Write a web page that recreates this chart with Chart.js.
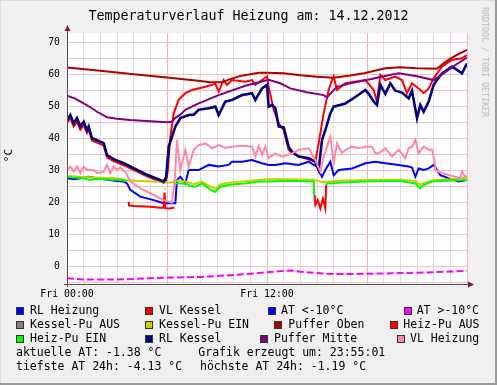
<!DOCTYPE html>
<html>
<head>
<meta charset="utf-8">
<script src="https://cdn.jsdelivr.net/npm/chart.js@4/dist/chart.umd.min.js"></script>
<style>
  html, body { margin:0; padding:0; background:#f0f0f0; }
  #wrap { position:relative; width:497px; height:385px; background:#f0f0f0; overflow:hidden; }
  canvas { position:absolute; left:0; top:0; }
  .t { position:absolute; font-family:"DejaVu Sans Mono", monospace; color:#000; white-space:pre; line-height:1; }
  .sq { position:absolute; width:8px; height:8px; box-sizing:border-box; border:1px solid #333; }
  .bd { position:absolute; }
</style>
</head>
<body>
<div id="wrap">
  <canvas id="c" width="497" height="385"></canvas>
  <div class="bd" style="left:0;top:0;width:497px;height:1px;background:#dcdcdc"></div>
  <div class="bd" style="left:0;top:0;width:1px;height:385px;background:#dcdcdc"></div>
  <div class="bd" style="left:495px;top:0;width:2px;height:385px;background:#9a9a9a"></div>
  <div class="bd" style="left:0;top:383px;width:497px;height:2px;background:#9a9a9a"></div>
</div>
<script>
// ---------- DATA (hours since Fri 00:00, °C) ----------
const titleText = "Temperaturverlauf Heizung am: 14.12.2012";
const yAxisTitle = "°C";
const xTickHours = [0,1,2,3,4,5,6,7,8,9,10,11,12,13,14,15,16,17,18,19,20,21,22,23,24];
const xTickLabels = { 0: "Fri 00:00", 12: "Fri 12:00" };
const yTickValues = [-5,0,5,10,15,20,25,30,35,40,45,50,55,60,65,70];

const legendNames = ["RL Heizung","VL Kessel","AT <-10°C","AT >-10°C","Kessel-Pu AUS","Kessel-Pu EIN",
                     "Puffer Oben","Heiz-Pu AUS","Heiz-Pu EIN","RL Kessel","Puffer Mitte","VL Heizung"];
const legendColors = ["#0000ff","#ff0000","#0000ff","#ff00ff","#808080","#cccc00",
                      "#aa0000","#ff0000","#00ff00","#000080","#800080","#ff88aa"];

const rlHeizung = [[0,27.6],[0.4,27.3],[0.8,27.6],[1.3,28.1],[1.8,27.6],[2.5,27.1],[3,26.8],[3.4,26.6],[3.6,26],[3.8,24],[4.4,21.9],[5.2,20.8],[5.8,19.8],[6.5,19.8],[6.6,27.1],[6.8,28.1],[7.1,26],[7.3,30.2],[7.9,30.2],[8.5,31.8],[9.1,31.3],[9.7,31.8],[9.9,32.8],[10.5,32.8],[11.1,33.3],[11.7,32.3],[12.1,31.8],[12.5,31.8],[13.1,32.3],[13.9,31.8],[14.5,32.8],[14.8,31.8],[15,31.3],[15.3,28.1],[15.5,30.2],[15.8,32.8],[16,28.6],[16.3,30.2],[17.1,30.7],[17.9,32.3],[18.5,32.8],[19.1,32.3],[19.9,31.8],[20.5,31.3],[20.7,31],[20.9,28.1],[21.1,30.7],[21.4,30.2],[21.7,30.7],[22,31.8],[22.4,28.6],[22.9,27.6],[23.5,26.6],[24,27.1]];

const vlKessel = [[0,45],[0.2,46.4],[0.4,43.8],[0.6,45.2],[0.8,42.8],[1,44.2],[1.2,41.8],[1.3,42.8],[1.5,39.4],[1.8,38.8],[2.2,37.8],[2.4,34.2],[2.8,33],[3.4,31.7],[3.8,30.7],[4.8,28.2],[5.8,26.2],[5.95,27],[6.05,30],[6.2,40.6],[6.4,47.9],[6.7,52.1],[7.1,54.2],[7.5,55.2],[8.3,56.2],[8.9,57.1],[9.1,54.7],[9.4,58.3],[9.6,56.8],[9.9,58.3],[10.7,57.8],[11.1,58.3],[11.3,56.8],[11.7,58.3],[12,59.4],[12.1,56.2],[12.4,49],[12.7,44.8],[13,42.7],[13.3,36.5],[13.7,34.9],[14.9,32.8],[15.1,38.6],[15.4,47.9],[15.7,55.2],[15.9,58.3],[16,59.4],[16.2,55.2],[16.7,57.3],[17.9,58.3],[18.4,55.2],[18.6,51.6],[18.8,59.9],[19.1,58.3],[19.7,59.4],[20.1,58.3],[20.4,54.2],[20.7,57.3],[21.1,55.7],[21.4,54.2],[21.7,55.7],[22,58.9],[22.5,62.5],[23.1,64.6],[23.7,65.1],[24,66.1]];

const atBelow10 = [];

const atAbove10 = [[0,-3.6],[1,-4.0],[2,-4.0],[3,-4.0],[4,-3.8],[5,-3.6],[6,-3.4],[7,-3.3],[8,-3.2],[9,-2.9],[10,-2.6],[11,-2.2],[12,-1.7],[13,-1.3],[13.5,-1.2],[14,-1.6],[15,-2.0],[16,-2.3],[17,-2.3],[18,-2.2],[19,-2.1],[20,-2.0],[21,-1.9],[22,-1.7],[23,-1.5],[24,-1.3]];

const kesselPuAus = [];

const kesselPuEin = [[0,28.3],[1,28],[2,27.8],[3,27.6],[3.6,27],[4.5,26.8],[5.5,26.5],[5.9,26.3],[6.3,26.3],[6.6,26.9],[7.1,26.6],[7.6,25.8],[8.1,26.6],[8.5,25.3],[8.9,24.3],[9.2,25.7],[9.7,26.2],[10.7,26.7],[11.5,27.1],[12,27.3],[13,27.3],[14.8,27.2],[15.3,26.5],[15.7,26.6],[16.5,26.9],[18,27.1],[19,27.2],[20,27.2],[20.9,26.8],[21.2,25.6],[21.5,26.3],[22,27],[23,27.3],[24,27.8]];

const pufferOben = [[0,62.2],[2,61.2],[4,60.1],[6,59.1],[8,58],[8.6,57.6],[9.3,57.6],[9.8,58.6],[10.4,59.6],[11.5,60.6],[12,60.6],[13,60.4],[14,59.8],[15,59.3],[16,59],[17,59.7],[17.9,60.5],[18.7,61.5],[19.1,62],[20,62.3],[21,62],[22.2,61.8],[22.6,63.5],[23,65],[23.5,66.5],[24,67.7]];

const heizPuAus = [[3.7,20.3],[3.72,19.2],[4,19],[5,18.7],[5.6,18.4],[5.8,18.4],[5.85,23.2],[5.9,18.3],[6.2,18.2],[6.45,18.5],[6.5,null],[14.85,22.4],[14.9,19.3],[15.05,20.8],[15.2,18.2],[15.35,21.2],[15.5,18.2],[15.55,25.5],[15.6,null]];

const heizPuEin = [[0,28.1],[0.4,27.9],[0.8,27.8],[1.4,27.1],[1.8,27.5],[2.2,27.3],[2.6,27.2],[3,27.2],[3.3,27],[3.6,26.8],[3.65,null],[5.84,24.2],[5.9,24.2],[5.95,null],[6.45,25.5],[6.5,26],[7.1,26],[7.4,25.2],[7.7,25],[8.1,26],[8.5,24.5],[8.7,23.8],[8.9,23.4],[9.2,25],[9.7,25.5],[10.2,25.8],[10.7,26],[11.5,26.6],[12.1,26.6],[13,26.8],[14,26.8],[14.8,26.6],[14.83,22.4],[14.86,null],[15.55,25.5],[15.6,26],[16.5,26.3],[17.9,26.6],[19,26.8],[20,26.8],[20.9,26],[21.1,25],[21.2,24.5],[21.4,25.5],[21.9,26.6],[23,26.9],[24,27.1]];

const rlKessel = [[0,45.8],[0.2,47.4],[0.4,44.8],[0.6,46.4],[0.8,43.8],[1,45.3],[1.2,42.7],[1.3,43.8],[1.5,40.1],[1.8,39.5],[2.2,38.6],[2.4,34.9],[2.8,33.6],[3.4,32.3],[3.8,31.3],[4.8,28.7],[5.8,26.6],[5.95,28],[6.1,37.5],[6.3,40.6],[6.5,43.8],[6.8,46.4],[7.3,47.4],[7.6,47.5],[7.9,49],[8.5,49.5],[8.9,50],[9.1,47.4],[9.5,51.6],[9.9,52.1],[10.5,53.6],[11.1,54.2],[11.3,52.1],[11.7,55.7],[12,56.8],[12.1,50],[12.3,50.5],[12.5,49.5],[12.7,43.8],[13,43.5],[13.3,37.5],[13.5,35.9],[13.9,34.4],[14.5,33.9],[14.9,32.8],[15.1,30.2],[15.3,39.6],[15.5,42.7],[15.8,47.9],[16,50],[16.7,51],[17.3,53],[17.9,55.2],[18.1,54],[18.4,51.6],[18.6,50.5],[18.8,56.8],[19.1,54],[19.4,57.3],[19.7,55],[20.1,54.4],[20.5,52.6],[20.7,55],[21,46.4],[21.2,50.5],[21.4,48.4],[21.7,51.6],[22,56.8],[22.2,58.3],[22.5,60.4],[23.1,62.5],[23.4,61.5],[23.7,60.4],[24,63.5]];

const pufferMitte = [[0,53.4],[0.5,52.5],[1,51],[1.5,49.5],[1.8,48.4],[2.4,46.7],[3,46.2],[3.8,45.8],[5,45.4],[6,45.1],[6.3,45.3],[6.5,46.5],[6.8,47.5],[7.1,49],[7.9,51],[9.1,53.6],[10.7,56.5],[12.1,58.4],[12.8,57.3],[13.4,55.7],[14.4,54.5],[15.4,53.6],[15.6,52.9],[15.9,54.6],[16.2,56.2],[17,57.3],[18,58.3],[19,59.5],[19.9,60.4],[21,59.5],[22,58.3],[22.6,60.4],[23.3,63],[24,65.3]];

const vlHeizung = [[0,30.2],[0.2,31.3],[0.4,29.7],[0.6,31.3],[0.8,29.2],[1,31.3],[1.2,30.2],[1.6,30.2],[1.8,29.2],[2.2,29.7],[2.4,31.8],[2.6,29.2],[2.8,31.3],[3,30.2],[3.2,31],[3.5,29.7],[3.8,26.6],[4.4,24.5],[5.2,22.4],[5.8,20.8],[6.3,20],[6.45,26],[6.6,39.6],[6.8,30.2],[7.1,36.5],[7.3,31.3],[7.6,36.5],[7.9,38],[8.3,38.5],[8.7,37],[9.1,38],[9.5,37.2],[9.9,37.5],[10.5,37.8],[11.1,37.5],[11.3,34.4],[11.5,37.8],[11.7,35],[11.9,37.5],[12.1,33.9],[12.5,35.4],[12.9,34.4],[13.5,35.4],[13.9,36.5],[14.5,37],[14.9,33.3],[15.2,29.7],[15.4,34.4],[15.6,37.5],[15.8,40.6],[16,32.3],[16.2,38.5],[16.5,35.5],[16.7,36.5],[17.1,37.5],[17.5,37],[17.9,37.5],[18.3,37.5],[18.5,35.5],[18.7,35.4],[19.1,37],[19.5,34.4],[19.9,36.5],[20.3,33.9],[20.5,37],[20.7,37.5],[20.9,39.6],[21.1,35.4],[21.4,37.5],[21.7,36.5],[21.9,36.5],[22.05,33],[22.1,30.2],[22.5,29.2],[23.3,28.1],[23.6,27.6],[23.7,29.7],[23.9,28.1],[24,28.3]];

const seriesData = [rlHeizung, vlKessel, atBelow10, atAbove10, kesselPuAus, kesselPuEin,
                    pufferOben, heizPuAus, heizPuEin, rlKessel, pufferMitte, vlHeizung];
const infoLines = [
  ["aktuelle AT: -1.38 °C", "Grafik erzeugt um: 23:55:01"],
  ["tiefste AT 24h: -4.13 °C", "höchste AT 24h: -1.19 °C"]
];

// ---------- LAYOUT / STYLE ----------
const MONO = '"DejaVu Sans Mono", monospace';
const wrap = document.getElementById('wrap');
function addText(txt, x, y, size, extra) {
  const d = document.createElement('div');
  d.className = 't';
  d.textContent = txt;
  d.style.left = x + 'px';
  d.style.top = y + 'px';
  d.style.fontSize = size + 'px';
  if (extra) Object.assign(d.style, extra);
  wrap.appendChild(d);
  return d;
}
addText(titleText, 0, 9, 13.3, { width:'497px', textAlign:'center', left:'0px' });
addText(yAxisTitle, 2, 150, 11, { transform:'rotate(-90deg)', transformOrigin:'center' });
addText("RRDTOOL / TOBI OETIKER", 429, 58, 8.3, { transform:'rotate(90deg)', color:'#b8b8b8', width:'112px', textAlign:'center' });

// legend (rows are justified like rrdtool: last entry right-aligned)
const legSquareX = [[16, 145.3, 267.7, 403.7], [16, 145.3, 274, 390], [16, 145.3, 260, 396.7]];
const legTextX   = [[30, 159, 281, 416.7],   [30, 159, 288.3, 403.3], [30, 159, 274, 410]];
const legRows = [311, 325, 339.3];
legendNames.forEach((name, i) => {
  const col = i % 4, row = Math.floor(i / 4);
  const sq = document.createElement('div');
  sq.className = 'sq';
  sq.style.left = legSquareX[row][col] + 'px';
  sq.style.top = (legRows[row] - 4.5) + 'px';
  sq.style.background = legendColors[i];
  wrap.appendChild(sq);
  addText(name, legTextX[row][col], legRows[row] - 6.5, 11.5);
});
addText(infoLines[0][0], 16, 353.3 - 6.5, 11.5);
addText(infoLines[0][1], 198.3, 353.3 - 6.5, 11.5);
addText(infoLines[1][0], 16, 367.3 - 6.5, 11.5);
addText(infoLines[1][1], 200, 367.3 - 6.5, 11.5);

// ---------- CHART ----------
const datasets = seriesData.map((arr, i) => ({
  label: legendNames[i],
  data: arr.map(p => ({ x: p[0], y: p[1] })),
  borderColor: legendColors[i],
  backgroundColor: legendColors[i],
  borderWidth: (i === 9) ? 2.6 : 2,
  borderDash: (i === 3) ? [7, 3] : [],
  pointRadius: 0,
  tension: 0,
  spanGaps: false,
  fill: false,
  order: 20 - i
}));

const bgPlugin = {
  id: 'bg',
  beforeDraw(chart) {
    const { ctx, chartArea: a } = chart;
    ctx.save();
    ctx.fillStyle = '#ffffff';
    ctx.fillRect(a.left, a.top, a.right - a.left, a.bottom - a.top);
    ctx.restore();
  },
  afterDraw(chart) {
    const { ctx, chartArea: a } = chart;
    ctx.save();
    ctx.strokeStyle = '#5a4c4c';
    ctx.lineWidth = 1;
    ctx.beginPath();
    ctx.moveTo(a.left + 0.5, a.bottom + 3);
    ctx.lineTo(a.left + 0.5, a.top - 5);
    ctx.moveTo(a.left - 3, a.bottom + 0.5);
    ctx.lineTo(a.right + 4, a.bottom + 0.5);
    ctx.stroke();
    ctx.fillStyle = '#8b1a1a';
    ctx.beginPath();
    ctx.moveTo(a.left + 0.5, a.top - 8);
    ctx.lineTo(a.left - 2.5, a.top - 2);
    ctx.lineTo(a.left + 3.5, a.top - 2);
    ctx.closePath();
    ctx.fill();
    ctx.beginPath();
    ctx.moveTo(a.right + 7, a.bottom + 0.5);
    ctx.lineTo(a.right + 1, a.bottom - 2.5);
    ctx.lineTo(a.right + 1, a.bottom + 3.5);
    ctx.closePath();
    ctx.fill();
    ctx.restore();
  }
};

new Chart(document.getElementById('c'), {
  type: 'line',
  data: { datasets },
  options: {
    responsive: false,
    animation: false,
    devicePixelRatio: 1,
    layout: { padding: { left: 0, top: 33, right: 30, bottom: 81 } },
    plugins: { legend: { display: false }, tooltip: { enabled: false }, title: { display: false } },
    scales: {
      x: {
        type: 'linear', min: 0, max: 24,
        afterBuildTicks: s => { s.ticks = xTickHours.map(v => ({ value: v })); },
        afterFit: s => { s.height = 20; },
        border: { display: false },
        grid: {
          drawTicks: false,
          lineWidth: 1,
          color: c => (c.tick && c.tick.value % 6 === 0) ? '#f3b4b4' : '#dddddd'
        },
        ticks: {
          autoSkip: false, maxRotation: 0, minRotation: 0, padding: 4,
          color: '#000', font: { family: MONO, size: 9.9 },
          callback: v => (xTickLabels[v] !== undefined ? xTickLabels[v] : '')
        }
      },
      y: {
        type: 'linear', min: -5.4, max: 73,
        afterBuildTicks: s => { s.ticks = yTickValues.map(v => ({ value: v })); },
        afterFit: s => { s.width = 67; },
        border: { display: false },
        grid: { drawTicks: false, lineWidth: 1, color: '#f4c4c4' },
        ticks: {
          padding: 7, color: '#000', font: { family: MONO, size: 9.8 },
          callback: v => (v % 10 === 0 ? String(v) : '')
        }
      }
    }
  },
  plugins: [bgPlugin]
});
</script>
</body>
</html>
